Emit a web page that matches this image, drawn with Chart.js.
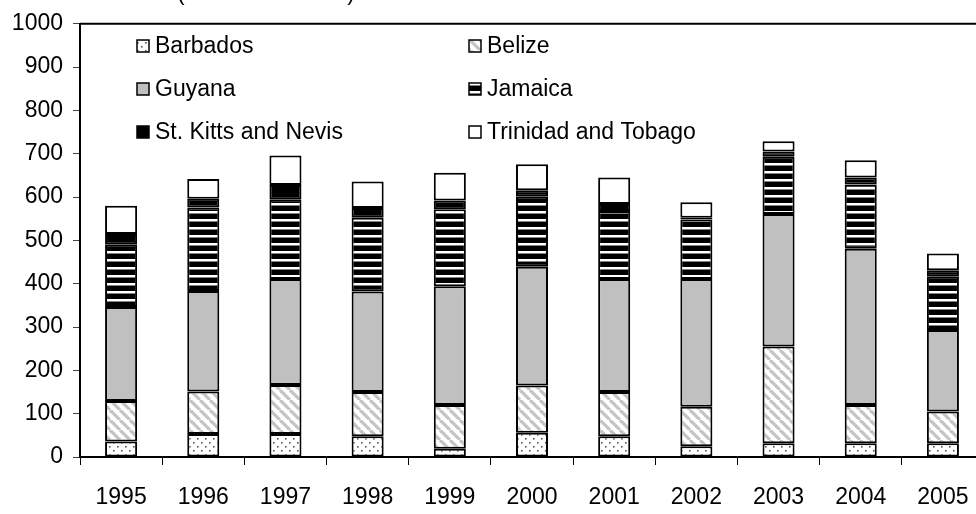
<!DOCTYPE html>
<html>
<head>
  <title>Sugar exports</title>
  <script src="https://cdn.jsdelivr.net/npm/chart.js"></script>
  <style>
    html, body { margin: 0; padding: 0; background: #fff; overflow: hidden; }
    #wrap { width: 1000px; height: 514px; }
  </style>
</head>
<body>
  <div id="wrap"><canvas id="chart" width="1000" height="514"></canvas></div>

  <script>
    const years = ['1995', '1996', '1997', '1998', '1999', '2000', '2001', '2002', '2003', '2004', '2005'];
    const countries = ['Barbados', 'Belize', 'Guyana', 'Jamaica', 'St. Kitts and Nevis', 'Trinidad and Tobago'];

    const barbados = [36, 53, 53, 48, 19, 56, 48, 25, 32, 32, 32];
    const belize   = [93, 98, 113, 102, 101, 109, 102, 91, 223, 88, 73];
    const guyana   = [217, 232, 245, 232, 274, 274, 261, 295, 306, 361, 188];
    const jamaica  = [145, 193, 183, 170, 178, 162, 157, 137, 132, 148, 124];
    const stkitts  = [24, 20, 34, 23, 20, 15, 16, 4, 12, 16, 14];
    const trinidad = [65, 46, 68, 61, 64, 60, 61, 36, 24, 40, 39];

    const yTicks = { min: 0, max: 1000, step: 100 };

    const FONT = '"Liberation Sans", Arial, sans-serif';

    // fill patterns, same look as the old excel chart
    function makePattern(w, h, draw) {
      const c = document.createElement('canvas');
      c.width = w; c.height = h;
      const g = c.getContext('2d');
      draw(g, w, h);
      return document.getElementById('chart').getContext('2d').createPattern(c, 'repeat');
    }

    const dots = makePattern(8, 8, (g, w, h) => {
      g.fillStyle = '#fff'; g.fillRect(0, 0, w, h);
      g.fillStyle = '#555';
      g.fillRect(1, 2, 1.6, 1.6);
      g.fillRect(5, 6, 1.6, 1.6);
    });

    const diag = makePattern(10, 10, (g, w, h) => {
      g.fillStyle = '#fff'; g.fillRect(0, 0, w, h);
      g.strokeStyle = '#c4c4c4';
      g.lineWidth = 3.2;
      for (let k = -2; k <= 2; k++) {
        g.beginPath();
        g.moveTo(k * 10, 0);
        g.lineTo(k * 10 + 10, 10);
        g.stroke();
      }
    });

    const hstripes = makePattern(8, 8, (g, w, h) => {
      g.fillStyle = '#000'; g.fillRect(0, 0, w, h);
      g.fillStyle = '#fff'; g.fillRect(0, 3, w, 2.5);
    });

    const fills = [dots, diag, '#c0c0c0', hstripes, '#000', '#fff'];
    const series = [barbados, belize, guyana, jamaica, stkitts, trinidad];

    const datasets = countries.map((name, i) => ({
      label: name,
      data: series[i],
      backgroundColor: fills[i],
      borderColor: '#000',
      borderWidth: 2,
      borderSkipped: false,
      barPercentage: 0.39,
      categoryPercentage: 1
    }));

    // two-column legend inside the plot + top frame line + clipped subtitle
    const extras = {
      id: 'extras',
      afterDraw(chart) {
        const ctx = chart.ctx;
        const area = chart.chartArea;
        ctx.save();

        ctx.strokeStyle = '#000';
        ctx.lineWidth = 2;
        ctx.beginPath();
        ctx.moveTo(area.left, area.top);
        ctx.lineTo(area.right, area.top);
        ctx.lineTo(area.right, area.bottom);
        ctx.stroke();

        ctx.fillStyle = '#000';
        ctx.font = '22px ' + FONT;
        ctx.textAlign = 'center';
        ctx.textBaseline = 'alphabetic';
        ctx.fillText('(thousand tonnes)', 266, 0);

        const cols = [137, 469];
        const rows = [46, 89, 132];
        ctx.font = '23px ' + FONT;
        ctx.textAlign = 'left';
        ctx.textBaseline = 'middle';
        countries.forEach((name, i) => {
          const x = cols[i % 2];
          const y = rows[Math.floor(i / 2)];
          ctx.fillStyle = fills[i];
          ctx.fillRect(x, y - 6, 12, 12);
          ctx.strokeStyle = '#000';
          ctx.lineWidth = 1.5;
          ctx.strokeRect(x, y - 6, 12, 12);
          ctx.fillStyle = '#000';
          ctx.fillText(name, x + 18, y + 1);
        });
        ctx.restore();
      }
    };

    new Chart(document.getElementById('chart').getContext('2d'), {
      type: 'bar',
      data: { labels: years, datasets: datasets },
      options: {
        responsive: false,
        animation: false,
        layout: { padding: { top: 18, right: 16, left: 0, bottom: 0 } },
        plugins: {
          legend: { display: false },
          tooltip: { enabled: false }
        },
        scales: {
          x: {
            stacked: true,
            afterFit: s => { s.height = 57; },
            border: { display: true, color: '#000', width: 2 },
            grid: { offset: true, drawOnChartArea: false, drawTicks: true, tickLength: 8, color: '#000' },
            ticks: { color: '#000', padding: 19, font: { family: FONT, size: 23 } }
          },
          y: {
            stacked: true,
            min: yTicks.min,
            max: yTicks.max,
            afterFit: s => { s.width = 80; },
            border: { display: true, color: '#000', width: 2 },
            grid: { drawOnChartArea: false, drawTicks: true, tickLength: 7, color: '#444' },
            ticks: {
              stepSize: yTicks.step,
              color: '#000',
              padding: 10,
              font: { family: FONT, size: 23 },
              callback: v => String(v)
            }
          }
        }
      },
      plugins: [extras]
    });
  </script>
</body>
</html>
